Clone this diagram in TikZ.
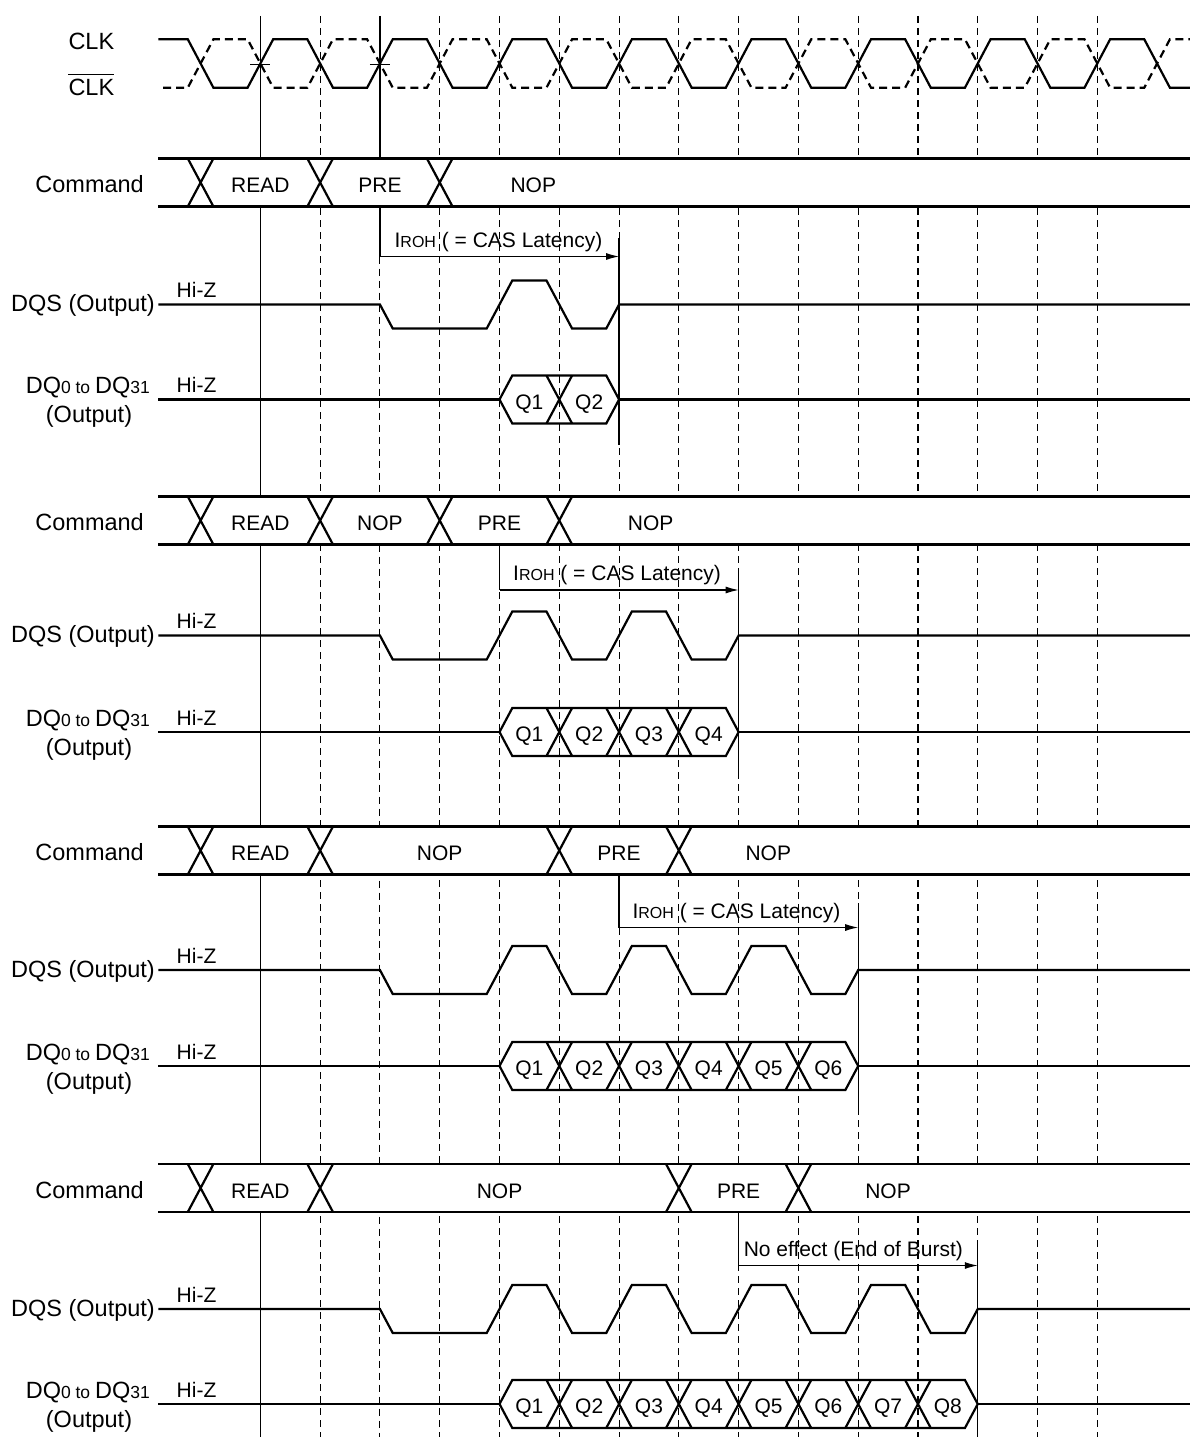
\documentclass[tikz,border=0pt]{standalone}
\usepackage{fontspec}
\setmainfont{Liberation Sans}
\usetikzlibrary{arrows.meta}
\newcommand\mycmdrow[4]{% #1 top, #2 bottom, #3 X list, #4 prefix
  \fill[white] (158.3,#1) rectangle (1190,#2);
  \draw[sig] (158.3,#1) -- (1190,#1) (158.3,#2) -- (1190,#2);
  \foreach \k in {#3} \draw[sig] ({gx(\k)-12.8},#1) -- ({gx(\k)+12.8},#2) ({gx(\k)-12.8},#2) -- ({gx(\k)+12.8},#1);
  \node[lab, anchor=base east] (#4cmd) at (144,{(#1+#2)/2+10}) {Command};
}
\newcommand\mydqsrow[4]{% #1 S, #2 toggle list, #3 n, #4 prefix
  \draw[sig] (158.3,#1) -- ({gx(3)},#1) -- ({gx(3)+12.8},#1+24)
    \foreach \k in {#2} { -- ({gx(\k)-12.8},#1+24) -- ({gx(\k)+12.8},#1-24) -- ({gx(\k+1)-12.8},#1-24) -- ({gx(\k+1)+12.8},#1+24) }
    -- ({gx(#3)-12.8},#1+24) -- ({gx(#3)},#1) -- (1190,#1);
  \node[lab, anchor=base east] (#4dqsl) at (155,#1+7) {DQS (Output)};
  \node[txt, anchor=base west] (#4dqsz) at (176.5,#1-7) {Hi-Z};
}
\newcommand\mydqrow[5]{% #1 D, #2 n, #3 crossing list, #4 number of Q, #5 prefix
  \draw[sig] (158.3,#1) -- ({gx(5)},#1);
  \draw[sig] ({gx(5)},#1) -- ({gx(5)+12.8},#1-24) -- ({gx(#2)-12.8},#1-24) -- ({gx(#2)},#1) -- ({gx(#2)-12.8},#1+24) -- ({gx(5)+12.8},#1+24) -- cycle;
  \draw[sig] ({gx(#2)},#1) -- (1190,#1);
  \foreach \k in {#3} \draw[sig] ({gx(\k)-12.8},#1-24) -- ({gx(\k)+12.8},#1+24) ({gx(\k)-12.8},#1+24) -- ({gx(\k)+12.8},#1-24);
  \foreach \i in {1,...,#4} \node[txt, anchor=base] (#5q\i) at ({(gx(4+\i)+gx(5+\i))/2},#1+9.5) {Q\i};
  \node[lab, anchor=base east] (#5dql) at (150,#1-6) {DQ{\fontsize{17.5}{20}\selectfont 0 to }DQ{\fontsize{17.5}{20}\selectfont 31}};
  \node[lab, anchor=base] (#5dqo) at (89,#1+23) {(Output)};
  \node[txt, anchor=base west] (#5dqz) at (176.5,#1-7) {Hi-Z};
}
\newcommand\myroh{I{\fontsize{16}{18}\selectfont ROH} ( = CAS Latency)}
\begin{document}
\begin{tikzpicture}[x=1pt,y=-1pt,
  declare function={gx(\x)=200.6+59.78*\x;},
  sig/.style={line width=2.2pt},
  gridline/.style={line width=1.1pt, dash pattern=on 7pt off 5pt},
  vsolid/.style={line width=1.2pt},
  lab/.style={inner sep=0pt, font=\fontsize{23.5}{28}\selectfont},
  txt/.style={inner sep=0pt, font=\fontsize{21}{25}\selectfont},
  dimarrow/.style={line width=1.1pt, -{Latex[length=13pt,width=7pt]}},
]
\useasboundingbox (0,0) rectangle (1190,1437);
\fill[white] (0,0) rectangle (1190,1437);

% grid lines
\foreach \k in {2,4,5,...,15} \draw[gridline] ({gx(\k)},16) -- ({gx(\k)},1437);
\draw[gridline] ({gx(3)},256.5) -- ({gx(3)},1437);

% arrow coordinates
\coordinate (a1s) at ({gx(3)},256.5);  \coordinate (a1e) at ({gx(7)},256.5);
\coordinate (a2s) at ({gx(5)},590);    \coordinate (a2e) at ({gx(9)},590);
\coordinate (a3s) at ({gx(7)},927.5);  \coordinate (a3e) at ({gx(11)},927.5);
\coordinate (a4s) at ({gx(9)},1265.5); \coordinate (a4e) at ({gx(13)},1265.5);

% solid vertical lines
\draw[vsolid] ({gx(1)},16) -- ({gx(1)},1437);
\draw[vsolid] ({gx(3)},16) -- (a1s);
\draw[vsolid] ({gx(5)},544.5) -- (a2s);
\draw[vsolid] ({gx(7)},874.5) -- (a3s);
\draw[vsolid] ({gx(9)},1212) -- (a4s);
\draw[vsolid] ({gx(7)},238) -- ({gx(7)},445);
\draw[vsolid] ({gx(9)},569) -- ({gx(9)},779);
\draw[vsolid] ({gx(11)},903) -- ({gx(11)},1112);
\draw[vsolid] ({gx(13)},1243) -- ({gx(13)},1437);

% clocks
\begin{scope}
\clip (0,0) rectangle (1190,1437);
\draw[sig] (158.3,39.3) \foreach \k in {0,2,...,16} { -- ({gx(\k)-12.8},39.3) -- ({gx(\k)+12.8},87.7) -- ({gx(\k+1)-12.8},87.7) -- ({gx(\k+1)+12.8},39.3) };
\draw[sig, dash pattern=on 8pt off 5pt] (163,87.7) \foreach \k in {0,2,...,16} { -- ({gx(\k)-12.8},87.7) -- ({gx(\k)+12.8},39.3) -- ({gx(\k+1)-12.8},39.3) -- ({gx(\k+1)+12.8},87.7) };
\end{scope}
\draw[vsolid] ({gx(1)-10},64.3) -- ({gx(1)+10},64.3);
\draw[vsolid] ({gx(3)-10},64.3) -- ({gx(3)+10},64.3);
\node[lab, anchor=base west] (clk) at (68.3,49.1) {CLK};
\node[lab, anchor=base west] (clkb) at (68.3,95.7) {CLK};
\draw[line width=1.3pt] ([yshift=4.5pt]clkb.north west) -- ([yshift=4.5pt]clkb.north east);

% ---------- block 1
\mycmdrow{158.5}{206.5}{0,2,4}{r1}
\node[txt, anchor=base] (r1c1) at ({gx(1)},192.5) {READ};
\node[txt, anchor=base] (r1c2) at ({gx(3)},192.5) {PRE};
\node[txt, anchor=base] (r1c3) at (533.3,192.5) {NOP};
\draw[dimarrow] (a1s) -- (a1e);
\node[txt, anchor=base west] (r1t) at ({gx(3)+14.5},247) {\myroh};
\mydqsrow{304.5}{5}{7}{r1}
\mydqrow{399.5}{7}{6}{2}{r1}

% ---------- block 2
\mycmdrow{496.5}{544.5}{0,2,4,6}{r2}
\node[txt, anchor=base] (r2c1) at ({gx(1)},530.5) {READ};
\node[txt, anchor=base] (r2c2) at ({gx(3)},530.5) {NOP};
\node[txt, anchor=base] (r2c3) at ({gx(5)},530.5) {PRE};
\node[txt, anchor=base] (r2c4) at (650.7,530.5) {NOP};
\draw[dimarrow] (a2s) -- (a2e);
\node[txt, anchor=base west] (r2t) at ({gx(5)+13.5},580.5) {\myroh};
\mydqsrow{635.5}{5,7}{9}{r2}
\mydqrow{732}{9}{6,7,8}{4}{r2}

% ---------- block 3
\mycmdrow{826.5}{874.5}{0,2,6,8}{r3}
\node[txt, anchor=base] (r3c1) at ({gx(1)},860.5) {READ};
\node[txt, anchor=base] (r3c2) at ({gx(4)},860.5) {NOP};
\node[txt, anchor=base] (r3c3) at ({gx(7)},860.5) {PRE};
\node[txt, anchor=base] (r3c4) at (768.3,860.5) {NOP};
\draw[dimarrow] (a3s) -- (a3e);
\node[txt, anchor=base west] (r3t) at ({gx(7)+13.3},918) {\myroh};
\mydqsrow{970}{5,7,9}{11}{r3}
\mydqrow{1066}{11}{6,7,8,9,10}{6}{r3}

% ---------- block 4
\mycmdrow{1164}{1212}{0,2,8,10}{r4}
\node[txt, anchor=base] (r4c1) at ({gx(1)},1198) {READ};
\node[txt, anchor=base] (r4c2) at ({gx(5)},1198) {NOP};
\node[txt, anchor=base] (r4c3) at ({gx(9)},1198) {PRE};
\node[txt, anchor=base] (r4c4) at (888,1198) {NOP};
\draw[dimarrow] (a4s) -- (a4e);
\node[txt, anchor=base west] (r4t) at ({gx(9)+5},1256) {No effect (End of Burst)};
\mydqsrow{1309}{5,7,9,11}{13}{r4}
\mydqrow{1404}{13}{6,7,8,9,10,11,12}{8}{r4}
\end{tikzpicture}
\end{document}
